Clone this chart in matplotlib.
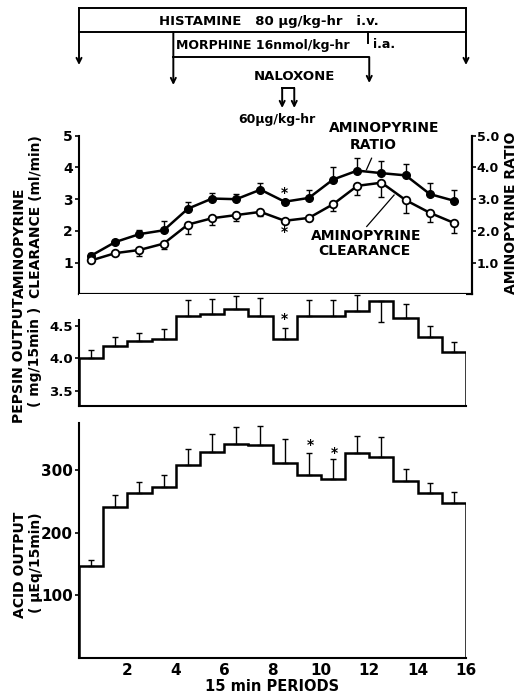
import numpy as np
import matplotlib.pyplot as plt

plt.rcParams['font.family'] = ['Liberation Sans Narrow', 'DejaVu Sans']
plt.rcParams['font.weight'] = 'bold'

# 15-min periods
periods = np.arange(1, 17)
period_edges = np.arange(0, 17)
x_ticks = [2, 4, 6, 8, 10, 12, 14, 16]

# aminopyrine ratio (filled) and clearance (open), ml/min
apy_ratio = [1.22, 1.65, 1.90, 2.02, 2.70, 3.02, 3.00, 3.30,
             2.92, 3.04, 3.62, 3.90, 3.82, 3.75, 3.16, 2.95]
apy_ratio_sem = [0.08, 0.07, 0.14, 0.28, 0.20, 0.18, 0.15, 0.20,
                 0.00, 0.26, 0.40, 0.40, 0.38, 0.35, 0.34, 0.33]
apy_clear = [1.07, 1.30, 1.40, 1.60, 2.20, 2.40, 2.50, 2.60,
             2.32, 2.41, 2.84, 3.42, 3.52, 2.97, 2.57, 2.25]
apy_clear_sem = [0.06, 0.06, 0.20, 0.18, 0.30, 0.20, 0.20, 0.13,
                 0.00, 0.05, 0.20, 0.29, 0.45, 0.40, 0.29, 0.31]

# pepsin output mg/15min (negative sem = drawn downward)
pepsin = [4.00, 4.19, 4.26, 4.30, 4.65, 4.68, 4.75, 4.65,
          4.29, 4.65, 4.65, 4.73, 4.88, 4.61, 4.32, 4.09]
pepsin_sem = [0.13, 0.13, 0.13, 0.15, 0.24, 0.23, 0.20, 0.27,
              0.18, 0.24, 0.24, 0.24, -0.32, 0.22, 0.18, 0.16]

# acid output uEq/15min
acid = [147, 242, 263, 273, 309, 330, 342, 340,
        312, 293, 287, 328, 321, 283, 263, 247]
acid_sem = [9, 18, 18, 20, 26, 28, 28, 31,
            38, 35, 31, 27, 33, 20, 16, 19]

# infusions, in periods
histamine = (0.0, 16.0)
morphine = (3.9, 11.95)
naloxone = (8.4, 8.9)

x = periods - 0.5
LW = 1.8
W, H = 519, 700
FS = 10


def px_axes(left, top, right, bottom):
    return fig.add_axes([left / W, 1 - bottom / H, (right - left) / W, (bottom - top) / H])


def style(ax):
    for s in ax.spines.values():
        s.set_linewidth(1.5)
    ax.tick_params(width=1.2, length=3, pad=1.5, labelsize=FS)


fig = plt.figure(figsize=(W / 100, H / 100), dpi=100)

# ---- aminopyrine panel
ax1 = px_axes(79, 135.7, 472, 294.4)
ax1.set_xlim(0, 16.24)
ax1.set_ylim(0, 5)
z = np.zeros(16)
ax1.errorbar(x, apy_ratio, yerr=[z, apy_ratio_sem], fmt='none', ecolor='k',
             elinewidth=1, capsize=2.5, capthick=1)
ax1.errorbar(x, apy_clear, yerr=[apy_clear_sem, z], fmt='none', ecolor='k',
             elinewidth=1, capsize=2.5, capthick=1)
ax1.plot(x, apy_ratio, '-o', color='k', lw=LW, ms=5.5)
ax1.plot(x, apy_clear, '-o', color='k', lw=LW, ms=5.5, mfc='white', mew=1.3)
ax1.text(x[8], 3.18, '*', ha='center', va='center', fontsize=FS)
ax1.text(x[8], 1.98, '*', ha='center', va='center', fontsize=FS)
ax1.set_xticks([])
ax1.set_yticks([1, 2, 3, 4, 5])
ax1.spines['top'].set_visible(False)
style(ax1)
tw = ax1.twinx()
tw.set_ylim(0, 5)
tw.set_yticks([1, 2, 3, 4, 5])
tw.set_yticklabels(['1.0', '2.0', '3.0', '4.0', '5.0'])
tw.spines['top'].set_visible(False)
tw.spines['left'].set_visible(False)
style(tw)
tw.tick_params(pad=0.5, labelsize=9)

ax1.text(12.6, 5.23, 'AMINOPYRINE', ha='center', va='center', fontsize=FS)
ax1.text(12.15, 4.71, 'RATIO', ha='center', va='center', fontsize=FS)
ax1.plot([12.09, 11.88], [4.29, 3.93], color='k', lw=0.9)
ax1.text(11.85, 1.84, 'AMINOPYRINE', ha='center', va='center', fontsize=FS)
ax1.text(11.78, 1.37, 'CLEARANCE', ha='center', va='center', fontsize=FS)
ax1.plot([11.89, 13.02], [2.14, 3.13], color='k', lw=0.9)

fig.text(20 / W, 1 - 298 / H, 'AMINOPYRINE', rotation=90, ha='center', va='bottom', fontsize=FS)
fig.text(36 / W, 1 - 298 / H, 'CLEARANCE (ml/min)', rotation=90, ha='center', va='bottom', fontsize=FS)
fig.text(511 / W, 1 - 213 / H, 'AMINOPYRINE RATIO', rotation=90, ha='center', va='center', fontsize=FS)

# ---- pepsin panel
pep_lo, pep_hi = 3.27, 4.985
ax2 = px_axes(79, 294, 466, 406)
ax2.set_xlim(0, 16)
ax2.set_ylim(pep_lo, pep_hi)
ax2.stairs(pepsin, period_edges, baseline=pep_lo, color='k', lw=LW)
psem = np.array(pepsin_sem)
ax2.errorbar(x, pepsin, yerr=[np.clip(-psem, 0, None), np.clip(psem, 0, None)], fmt='none',
             ecolor='k', elinewidth=1, capsize=2.5, capthick=1, clip_on=False)
ax2.text(x[8], 4.6, '*', ha='center', va='center', fontsize=FS)
ax2.set_xticks([])
ax2.set_yticks([3.5, 4.0, 4.5])
ax2.set_yticklabels(['3.5', '4.0', '4.5'])
ax2.spines['top'].set_visible(False)
ax2.spines['right'].set_visible(False)
ax2.spines['left'].set_bounds(pep_lo, 4.58)
style(ax2)
ax2.tick_params(labelsize=9.5)
fig.text(19 / W, 1 - 360 / H, 'PEPSIN OUTPUT', rotation=90, ha='center', va='center', fontsize=FS)
fig.text(35 / W, 1 - 357 / H, '( mg/15min )', rotation=90, ha='center', va='center', fontsize=FS)

# ---- acid panel
ax3 = px_axes(79, 423, 466, 657.5)
ax3.set_xlim(0, 16)
ax3.set_ylim(0, 376)
ax3.stairs(acid, period_edges, baseline=0, color='k', lw=LW)
ax3.errorbar(x, acid, yerr=[z, acid_sem], fmt='none', ecolor='k',
             elinewidth=1, capsize=2.5, capthick=1)
ax3.text(x[9] + 0.05, 340, '*', ha='center', va='center', fontsize=FS)
ax3.text(x[10] + 0.05, 328, '*', ha='center', va='center', fontsize=FS)
ax3.set_xticks(x_ticks)
ax3.set_yticks([100, 200, 300])
ax3.spines['top'].set_visible(False)
ax3.spines['right'].set_visible(False)
style(ax3)
ax3.tick_params(axis='y', labelsize=11)
ax3.tick_params(axis='x', length=0, labelsize=11, pad=4)
ax3.set_xlabel('15 min PERIODS', fontsize=10.5, fontweight='bold', labelpad=1)
fig.text(20 / W, 1 - 565 / H, 'ACID OUTPUT', rotation=90, ha='center', va='center', fontsize=FS)
fig.text(36 / W, 1 - 563 / H, '( \u00b5Eq/15min)', rotation=90, ha='center', va='center', fontsize=FS)

# ---- infusion schedule above the panels
an = px_axes(79, 0, 466, 135)
an.set_xlim(0, 16)
an.set_ylim(135, 0)
an.axis('off')
k = dict(color='k', lw=1.4, clip_on=False)
arrow = dict(arrowstyle='->', lw=1.4, color='k', mutation_scale=9, shrinkA=0, shrinkB=0)

h0, h1 = histamine
an.plot([h0, h1], [8, 8], **k)
an.plot([h0, h1], [32, 32], **k)
for xx in (h0, h1):
    an.annotate('', xy=(xx, 65), xytext=(xx, 8), arrowprops=arrow, annotation_clip=False)
an.text((h0 + h1) / 2 - 0.15, 21, 'HISTAMINE   80 \u00b5g/kg-hr   i.v.', ha='center', va='center', fontsize=9.5)

m0, m1 = morphine
an.plot([m0, m1], [57, 57], **k)
an.plot([m1, m1], [32, 43], **k)
an.annotate('', xy=(m0, 85), xytext=(m0, 32), arrowprops=arrow, annotation_clip=False)
an.annotate('', xy=(m1 + 0.05, 83), xytext=(m1 + 0.05, 57), arrowprops=arrow, annotation_clip=False)
an.text(m0 + 0.12, 45, 'MORPHINE 16nmol/kg-hr', ha='left', va='center', fontsize=9)
an.text(m1 + 0.2, 45, 'i.a.', ha='left', va='center', fontsize=9)

n0, n1 = naloxone
an.text(n1, 76, 'NALOXONE', ha='center', va='center', fontsize=9.5)
an.plot([n0, n1], [88, 88], **k)
for xx in (n0, n1):
    an.annotate('', xy=(xx, 108), xytext=(xx, 88), arrowprops=arrow, annotation_clip=False)
an.text(8.2, 120, '60\u00b5g/kg-hr', ha='center', va='center', fontsize=9)

fig.savefig('out.png', dpi=100)
